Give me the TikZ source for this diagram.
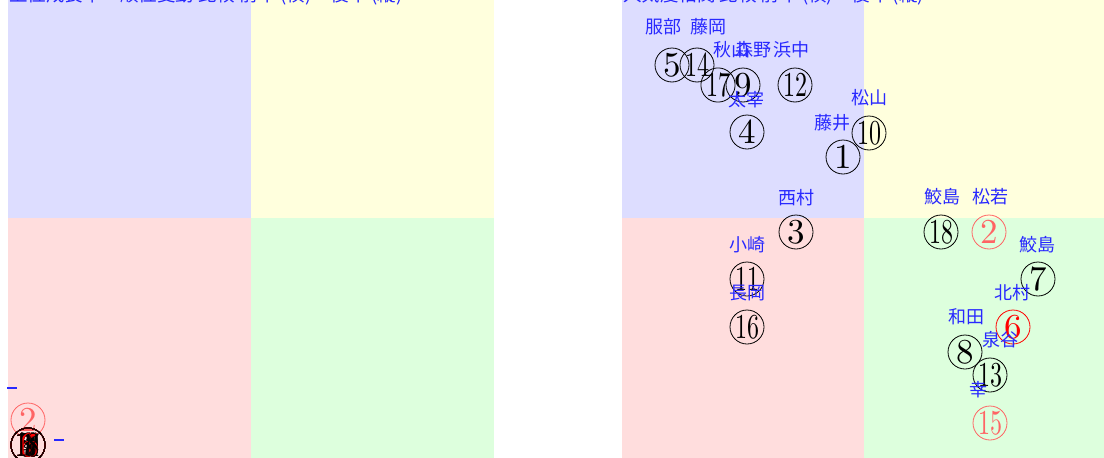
\documentclass[tikz,border=0pt]{standalone}
\usepackage{fontspec}
\newfontfamily\cjk{Noto Sans CJK JP}
\definecolor{qblue}{HTML}{DDDDFF}
\definecolor{qyellow}{HTML}{FFFFDD}
\definecolor{qred}{HTML}{FFDDDD}
\definecolor{qgreen}{HTML}{DDFFDD}
\definecolor{lblue}{RGB}{40,40,255}
\definecolor{lred}{RGB}{255,100,100}
\newcommand\oned[1]{\scalebox{3.5}{\fontsize{10}{10}\selectfont #1}}
\newcommand\twod[1]{\scalebox{2.4}[3.5]{\fontsize{10}{10}\selectfont #1}}
\tikzset{
  num/.style={circle, draw=black, line width=0.8pt, minimum size=34pt, inner sep=0pt, text=black},
  rednum/.style={num, draw=red, text=red},
  pinknum/.style={num, draw=lred, text=lred},
  lbl/.style={text=lblue, font=\cjk\fontsize{18}{18}\selectfont, inner sep=0pt},
  ttl/.style={text=lblue, font=\cjk\fontsize{18.5}{18.5}\selectfont, inner sep=0pt, anchor=west},
  dashmark/.style={draw=lblue, line width=1.4pt}
}
\begin{document}
\begin{tikzpicture}[x=1pt,y=-1pt]
\useasboundingbox (0,0) rectangle (1104,458);
% left panel quadrants
\fill[qblue] (8,-30) rectangle (251,218);
\fill[qyellow] (251,-30) rectangle (494,218);
\fill[qred] (8,218) rectangle (251,460);
\fill[qgreen] (251,218) rectangle (494,460);
% right panel quadrants
\fill[qblue] (622,-30) rectangle (864,218);
\fill[qyellow] (864,-30) rectangle (1106,218);
\fill[qred] (622,218) rectangle (864,460);
\fill[qgreen] (864,218) rectangle (1106,460);
% titles (cut off at top)
\node[ttl] (tl) at (9,-5) {上位成長率×順位変動 比較 前年 (横)・後年 (縦)};
\node[ttl] (tr) at (623,-5) {人気度相関 比較 前年 (横)・後年 (縦)};
% left panel cluster
\node[pinknum] (L2) at (28,420) {\oned{2}};
\foreach \k in {1,3,4,5,7,8,9} {\node[num] (L\k) at (28,445) {\oned{\k}};}
\node[rednum] (L6) at (28,445) {\oned{6}};
\foreach \k in {10,11,12,13,14,16,17} {\node[num] (L\k) at (28,445) {\twod{\k}};}
\node[rednum] (L15) at (28,445) {\twod{15}};
\node[num] (L18) at (28,445) {\twod{18}};
\coordinate (da1) at (7,388); \coordinate (db1) at (17,388);
\coordinate (da2) at (54,440); \coordinate (db2) at (64,440);
\draw[dashmark] (da1) -- (db1);
\draw[dashmark] (da2) -- (db2);
% right panel circles
\node[num] (n5) at (672,65) {\oned{5}};
\node[num] (n14) at (697,65) {\twod{14}};
\node[num] (n17) at (718,85) {\twod{17}};
\node[num] (n9) at (743,85) {\oned{9}};
\node[num] (n12) at (795,85) {\twod{12}};
\node[num] (n4) at (747,132) {\oned{4}};
\node[num] (n10) at (869,133) {\twod{10}};
\node[num] (n1) at (843,157) {\oned{1}};
\node[num] (n3) at (796,232) {\oned{3}};
\node[num] (n18) at (941,232) {\twod{18}};
\node[pinknum] (n2) at (989,232) {\oned{2}};
\node[num] (n11) at (747,279) {\twod{11}};
\node[num] (n16) at (747,327) {\twod{16}};
\node[num] (n7) at (1038,279) {\oned{7}};
\node[rednum] (n6) at (1013,327) {\oned{6}};
\node[num] (n8) at (965,352) {\oned{8}};
\node[num] (n13) at (990,375) {\twod{13}};
\node[pinknum] (n15) at (990,423) {\twod{15}};
% right panel labels
\node[lbl] (t5) at (663,27) {服部};
\node[lbl] (t14) at (708,27) {藤岡};
\node[lbl] (t17) at (731,50) {秋山};
\node[lbl] (t9) at (753,50) {森野};
\node[lbl] (t12) at (791,50) {浜中};
\node[lbl] (t4) at (746,100) {太宰};
\node[lbl] (t10) at (869,98) {松山};
\node[lbl] (t1) at (832,123) {藤井};
\node[lbl] (t3) at (796,198) {西村};
\node[lbl] (t18) at (942,197) {鮫島};
\node[lbl] (t2) at (990,197) {松若};
\node[lbl] (t11) at (747,245) {小崎};
\node[lbl] (t16) at (747,293) {長岡};
\node[lbl] (t7) at (1037,245) {鮫島};
\node[lbl] (t6) at (1012,293) {北村};
\node[lbl] (t8) at (966,317) {和田};
\node[lbl] (t13) at (1000,340) {泉谷};
\node[lbl] (t15) at (978,390) {幸};
\end{tikzpicture}
\end{document}
